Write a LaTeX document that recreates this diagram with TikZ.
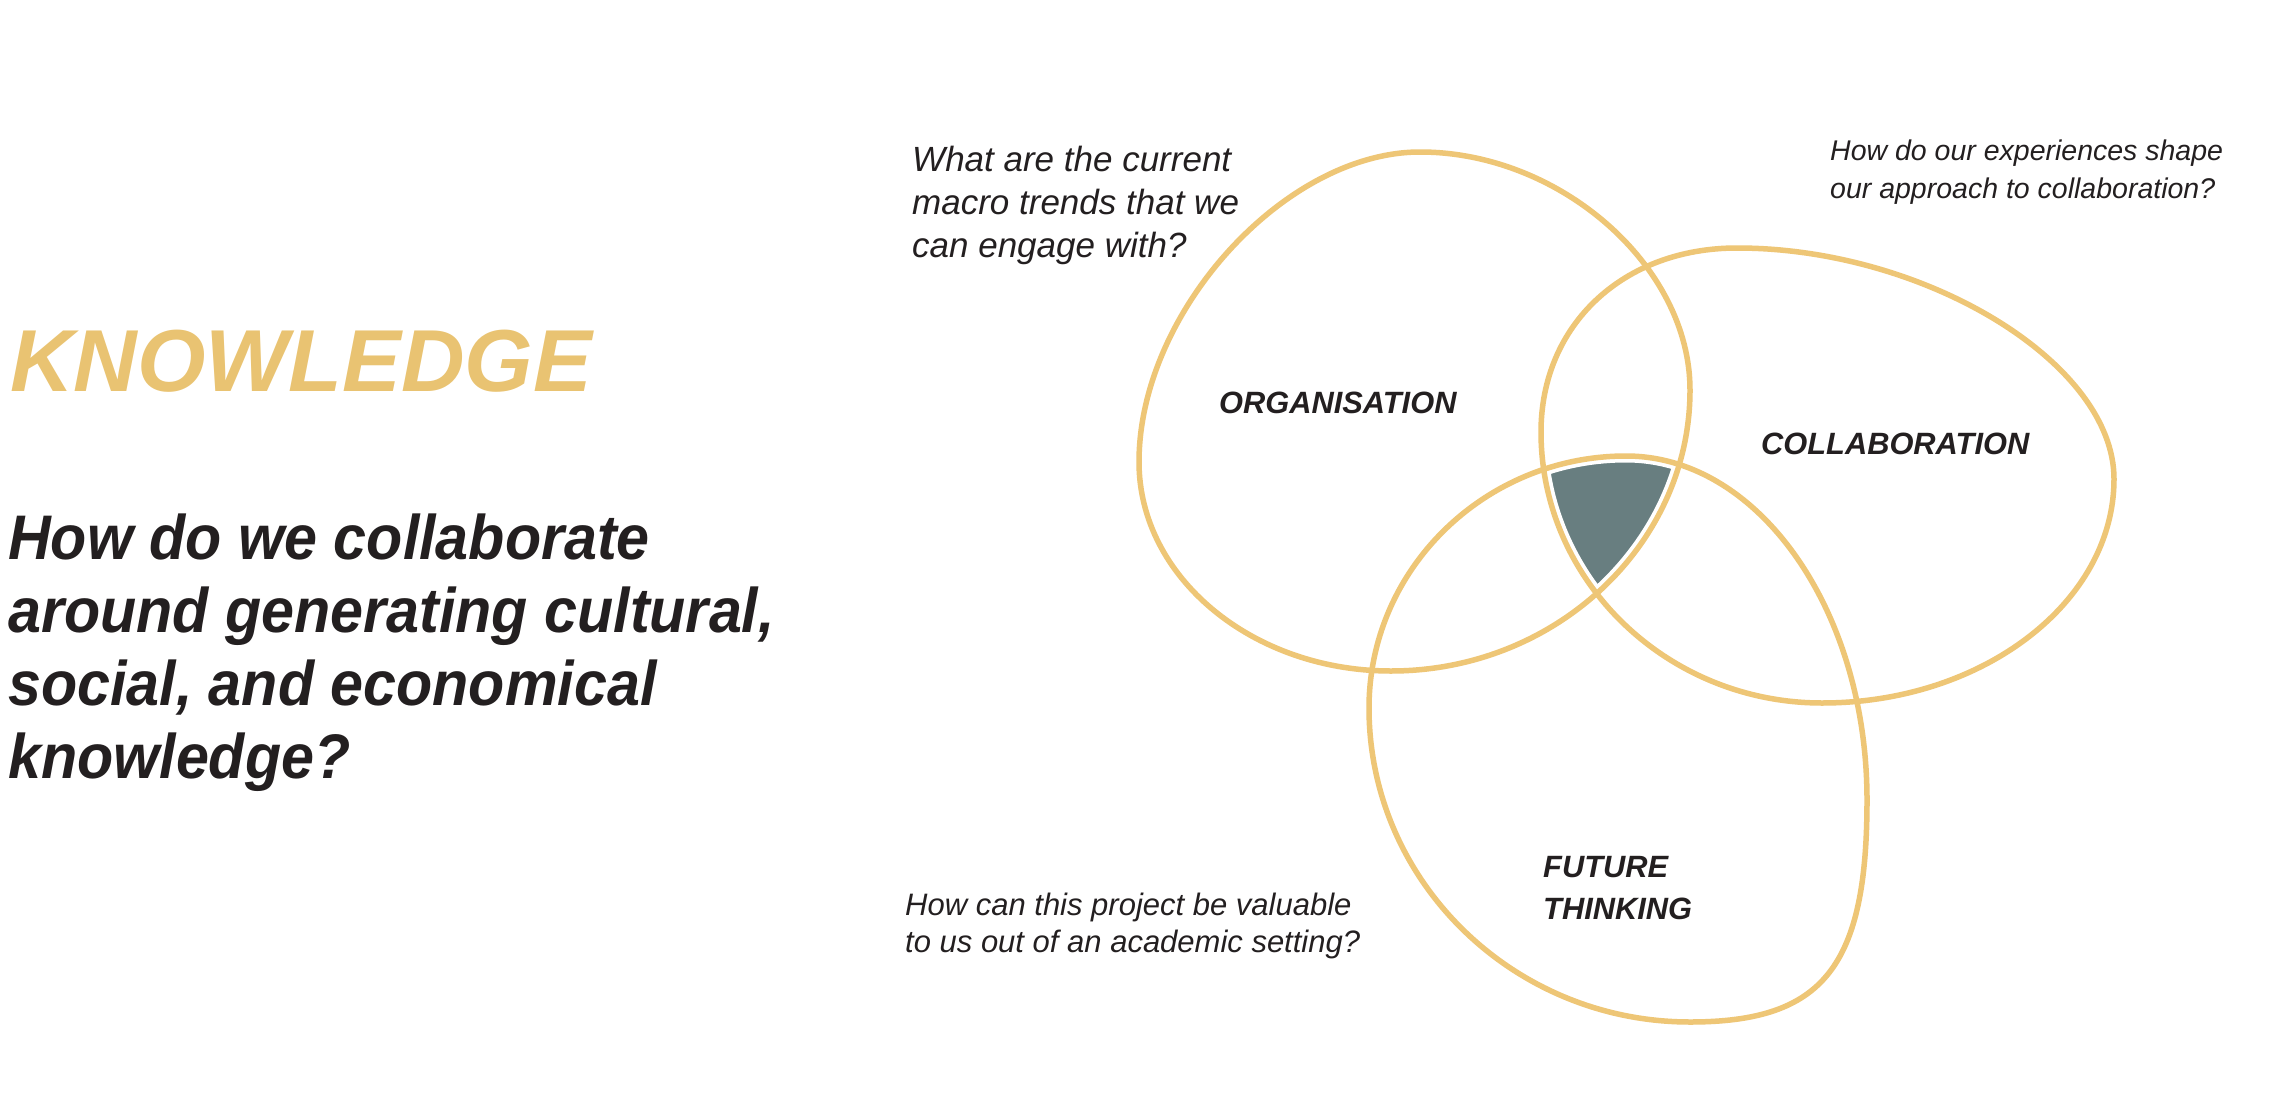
\documentclass[tikz,border=0pt]{standalone}
\usepackage{fontspec}
\setmainfont{Liberation Sans}
\newfontfamily\qfont[FakeStretch=0.94]{Liberation Sans}
\definecolor{gold}{HTML}{EEC676}
\definecolor{goldtext}{HTML}{E9C372}
\definecolor{slate}{HTML}{687E80}
\definecolor{ink}{HTML}{231F20}
\tikzset{
  outline/.style={draw=gold, line width=5.5pt},
  gap/.style={draw=white, line width=13pt},
  txt/.style={anchor=base west, inner sep=0pt, text=ink},
  quest/.style={txt, font=\itshape\fontsize{35}{43}\selectfont},
  lbl/.style={txt, font=\bfseries\itshape\fontsize{30.8}{36}\selectfont},
  big/.style={txt, font=\qfont\bfseries\itshape\fontsize{63}{73}\selectfont},
}
% ORGANISATION blob
\def\blobA{(1420,152) .. controls (1560,152) and (1690,266) .. (1690,390)
  .. controls (1690,545) and (1555,671) .. (1391,671)
  .. controls (1252,671) and (1139,577) .. (1139,462)
  .. controls (1139,312) and (1285,152) .. (1420,152) -- cycle}
% COLLABORATION blob
\def\blobB{(1737,248) .. controls (1925,248) and (2114,363) .. (2114,479)
  .. controls (2114,602) and (1983,703) .. (1822,703)
  .. controls (1667,703) and (1541,581) .. (1541,432)
  .. controls (1541,325) and (1623,248) .. (1737,248) -- cycle}
% FUTURE THINKING blob
\def\blobC{(1626,456) .. controls (1759,456) and (1867,611) .. (1867,800)
  .. controls (1867,967) and (1823,1022) .. (1690,1022)
  .. controls (1513,1022) and (1369,881) .. (1369,708)
  .. controls (1369,569) and (1485,456) .. (1626,456) -- cycle}
\begin{document}
\begin{tikzpicture}[x=1pt, y=-1pt]
\useasboundingbox (0,0) rectangle (2284,1116);
% centre intersection
\begin{scope}
  \clip \blobA;
  \clip \blobB;
  \fill[slate] \blobC;
\end{scope}
% white gaps, then outlines
\draw[gap] \blobA;
\draw[gap] \blobB;
\draw[gap] \blobC;
\draw[outline] \blobA;
\draw[outline] \blobB;
\draw[outline] \blobC;
% left column
\node[txt, text=goldtext, font=\bfseries\itshape\fontsize{88}{100}\selectfont] (title) at (10,391) {KNOWLEDGE};
\node[big] (q1) at (8,559) {How do we collaborate};
\node[big] (q2) at (8,632) {around generating cultural,};
\node[big] (q3) at (8,705) {social, and economical};
\node[big] (q4) at (8,778) {knowledge?};
% questions
\node[quest] (a1) at (912,171) {What are the current};
\node[quest] (a2) at (912,214) {macro trends that we};
\node[quest] (a3) at (912,257) {can engage with?};
\node[quest, font=\itshape\fontsize{28.5}{36}\selectfont] (b1) at (1830,160) {How do our experiences shape};
\node[quest, font=\itshape\fontsize{28.5}{36}\selectfont] (b2) at (1830,198) {our approach to collaboration?};
\node[quest, font=\itshape\fontsize{31}{37}\selectfont] (c1) at (905,915) {How can this project be valuable};
\node[quest, font=\itshape\fontsize{31}{37}\selectfont] (c2) at (905,952) {to us out of an academic setting?};
% labels
\node[lbl] (org) at (1219,413) {ORGANISATION};
\node[lbl] (col) at (1761,454) {COLLABORATION};
\node[lbl] (fut1) at (1543,877) {FUTURE};
\node[lbl] (fut2) at (1543,919) {THINKING};
\end{tikzpicture}
\end{document}
